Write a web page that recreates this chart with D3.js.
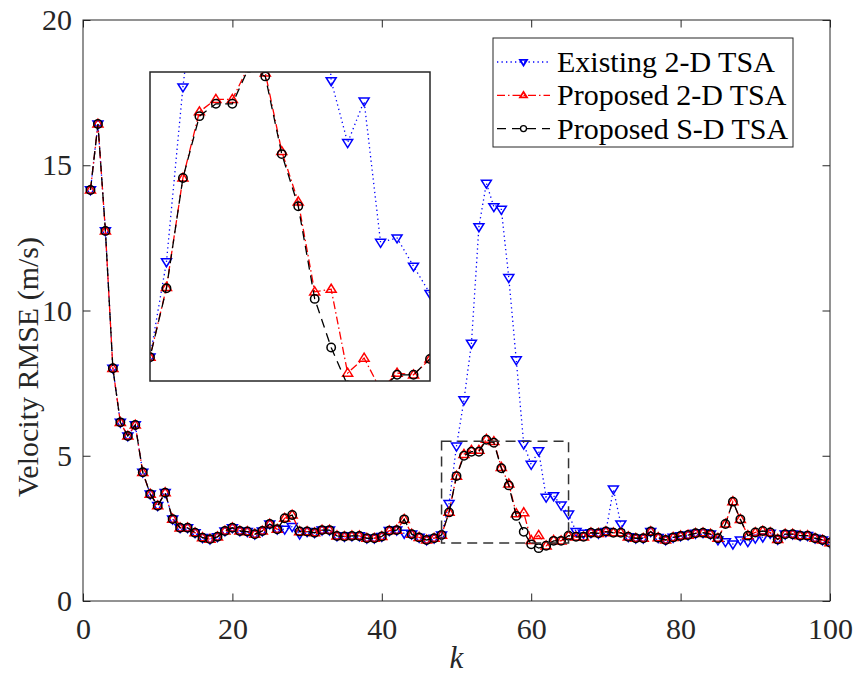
<!DOCTYPE html>
<html>
<head>
<meta charset="utf-8">
<script src="https://cdn.jsdelivr.net/npm/d3@7"></script>
<style>
  body { margin: 0; background: #fff; }
  svg { display: block; font-family: "Liberation Serif", "Times New Roman", "DejaVu Serif", serif; }
</style>
</head>
<body>
<svg id="chart" width="859" height="679"></svg>
<script>
// Time step index
const steps = d3.range(1, 101);

// Velocity RMSE (m/s) per time step
const existing2D = [
  14.15, 16.42, 12.74, 8.01, 6.15, 5.68, 6.06, 4.43, 3.68, 3.28,
  3.73, 2.82, 2.52, 2.52, 2.35, 2.18, 2.13, 2.21, 2.41, 2.52,
  2.41, 2.39, 2.30, 2.41, 2.65, 2.47, 2.47, 2.56, 2.30, 2.39,
  2.35, 2.44, 2.44, 2.24, 2.22, 2.24, 2.24, 2.16, 2.16, 2.22,
  2.42, 2.44, 2.33, 2.30, 2.19, 2.10, 2.16, 2.27, 3.35, 5.33,
  6.92, 8.87, 12.88, 14.38, 13.57, 13.48, 11.13, 8.30, 5.40, 4.70,
  5.17, 3.57, 3.62, 3.30, 2.99, 2.39, 2.33, 2.35, 2.33, 2.39,
  3.85, 2.65, 2.21, 2.16, 2.16, 2.39, 2.18, 2.10, 2.19, 2.24,
  2.27, 2.33, 2.35, 2.30, 2.10, 2.04, 1.96, 2.10, 2.04, 2.16,
  2.20, 2.33, 2.12, 2.30, 2.30, 2.25, 2.25, 2.16, 2.10, 2.01
];
const proposed2D = [
  14.15, 16.42, 12.74, 8.01, 6.15, 5.68, 6.06, 4.43, 3.68, 3.28,
  3.73, 2.82, 2.52, 2.52, 2.35, 2.18, 2.13, 2.21, 2.41, 2.52,
  2.41, 2.39, 2.30, 2.41, 2.65, 2.47, 2.85, 2.96, 2.39, 2.39,
  2.35, 2.44, 2.44, 2.24, 2.22, 2.24, 2.24, 2.16, 2.16, 2.22,
  2.42, 2.44, 2.81, 2.30, 2.19, 2.10, 2.16, 2.27, 3.06, 4.30,
  5.05, 5.19, 5.19, 5.57, 5.49, 4.60, 4.03, 3.01, 3.04, 2.09,
  2.26, 1.90, 2.09, 2.07, 2.25, 2.21, 2.21, 2.35, 2.33, 2.39,
  2.35, 2.35, 2.21, 2.16, 2.16, 2.39, 2.18, 2.10, 2.19, 2.24,
  2.27, 2.33, 2.35, 2.30, 2.16, 2.65, 3.42, 2.81, 2.25, 2.36,
  2.41, 2.36, 2.12, 2.30, 2.30, 2.25, 2.25, 2.16, 2.10, 2.01
];
const proposedSD = [
  14.15, 16.42, 12.74, 8.01, 6.15, 5.68, 6.06, 4.43, 3.68, 3.28,
  3.73, 2.82, 2.52, 2.52, 2.35, 2.18, 2.13, 2.21, 2.41, 2.52,
  2.41, 2.39, 2.30, 2.41, 2.65, 2.47, 2.85, 2.96, 2.39, 2.39,
  2.35, 2.44, 2.44, 2.24, 2.22, 2.24, 2.24, 2.16, 2.16, 2.22,
  2.42, 2.44, 2.81, 2.30, 2.19, 2.10, 2.16, 2.27, 3.05, 4.30,
  5.00, 5.14, 5.14, 5.55, 5.45, 4.57, 3.98, 2.93, 2.38, 1.95,
  1.82, 1.90, 2.07, 2.07, 2.25, 2.21, 2.21, 2.35, 2.33, 2.39,
  2.35, 2.35, 2.21, 2.16, 2.16, 2.39, 2.18, 2.10, 2.19, 2.24,
  2.27, 2.33, 2.35, 2.30, 2.16, 2.65, 3.42, 2.81, 2.25, 2.36,
  2.41, 2.36, 2.12, 2.30, 2.30, 2.25, 2.25, 2.16, 2.10, 2.01
];

const seriesNames = ["Existing 2-D TSA", "Proposed 2-D TSA", "Proposed S-D TSA"];
const xTicks = [0, 20, 40, 60, 80, 100];
const yTicks = [0, 5, 10, 15, 20];
// Zoomed window: k range and RMSE range
const zoomK = [48, 65];
const zoomV = [2, 5.5];

const svg = d3.select("#chart");
const FRAME = "#262626";
const FONT = "'Liberation Serif', 'Times New Roman', serif";

const plot = { left: 83, right: 830, top: 20, bottom: 601 };
const x = d3.scaleLinear().domain([0, 100]).range([plot.left, plot.right]);
const y = d3.scaleLinear().domain([0, 20]).range([plot.bottom, plot.top]);

const styles = [
  { color: "#0000ff", dash: "1.3,3.2", marker: "down" },
  { color: "#ff0000", dash: "8,3,1.5,3", marker: "up" },
  { color: "#000000", dash: "9,6", marker: "circle" }
];
const seriesData = [existing2D, proposed2D, proposedSD];

function markerPath(type, s) {
  if (type === "down") {
    return `M${-s},${-s * 0.62}L${s},${-s * 0.62}L0,${s * 0.98}Z`;
  } else if (type === "up") {
    return `M${-s},${s * 0.62}L${s},${s * 0.62}L0,${-s * 0.98}Z`;
  }
  return null;
}

function drawSeries(g, xs, ys, sizeTri, rCirc) {
  seriesData.forEach((vals, i) => {
    const st = styles[i];
    const pts = steps.map((k, j) => [k, vals[j]]);
    const line = d3.line().x(d => xs(d[0])).y(d => ys(d[1]));
    g.append("path")
      .attr("d", line(pts))
      .attr("fill", "none")
      .attr("stroke", st.color)
      .attr("stroke-width", 1.3)
      .attr("stroke-dasharray", st.dash);
    const mg = g.append("g");
    if (st.marker === "circle") {
      mg.selectAll("circle").data(pts).join("circle")
        .attr("cx", d => xs(d[0])).attr("cy", d => ys(d[1]))
        .attr("r", rCirc)
        .attr("fill", "none").attr("stroke", st.color).attr("stroke-width", 1.5);
    } else {
      mg.selectAll("path").data(pts).join("path")
        .attr("transform", d => `translate(${xs(d[0])},${ys(d[1])})`)
        .attr("d", markerPath(st.marker, sizeTri))
        .attr("fill", "none").attr("stroke", st.color).attr("stroke-width", 1.5);
    }
  });
}

// Main axes
svg.append("defs").append("clipPath").attr("id", "mainClip")
  .append("rect").attr("x", plot.left).attr("y", plot.top)
  .attr("width", plot.right - plot.left).attr("height", plot.bottom - plot.top);

const mainG = svg.append("g").attr("clip-path", "url(#mainClip)");
drawSeries(mainG, x, y, 5, 4.2);

// Dashed rectangle marking the zoomed window
svg.append("rect")
  .attr("x", x(zoomK[0])).attr("y", y(zoomV[1]))
  .attr("width", x(zoomK[1]) - x(zoomK[0]))
  .attr("height", y(zoomV[0]) - y(zoomV[1]))
  .attr("fill", "none").attr("stroke", "#333").attr("stroke-width", 1.5)
  .attr("stroke-dasharray", "10,6");

// Frame with inward ticks on all four sides
const tickLen = 7.5;
const axBottom = d3.axisBottom(x).tickValues(xTicks).tickSize(-tickLen).tickPadding(17);
const axTop = d3.axisTop(x).tickValues(xTicks).tickSize(-tickLen).tickFormat("");
const axLeft = d3.axisLeft(y).tickValues(yTicks).tickSize(-tickLen).tickPadding(11);
const axRight = d3.axisRight(y).tickValues(yTicks).tickSize(-tickLen).tickFormat("");

function styleAxis(g) {
  g.select(".domain").remove();
  g.selectAll(".tick line").attr("stroke", FRAME).attr("stroke-width", 1);
  g.selectAll(".tick text").attr("fill", "#262626")
    .style("font-family", FONT).style("font-size", "30px");
}
svg.append("g").attr("transform", `translate(0,${plot.bottom})`).call(axBottom).call(styleAxis);
svg.append("g").attr("transform", `translate(0,${plot.top})`).call(axTop).call(styleAxis);
svg.append("g").attr("transform", `translate(${plot.left},0)`).call(axLeft).call(styleAxis);
svg.append("g").attr("transform", `translate(${plot.right},0)`).call(axRight).call(styleAxis);
svg.append("rect")
  .attr("x", plot.left).attr("y", plot.top)
  .attr("width", plot.right - plot.left).attr("height", plot.bottom - plot.top)
  .attr("fill", "none").attr("stroke", FRAME).attr("stroke-width", 1);

// Axis labels
svg.append("text")
  .attr("x", (plot.left + plot.right) / 2).attr("y", 668)
  .attr("text-anchor", "middle")
  .style("font-family", FONT).style("font-size", "31px").style("font-style", "italic")
  .attr("fill", "#262626")
  .text("k");
svg.append("text")
  .attr("transform", "translate(38,497) rotate(-90)")
  .attr("text-anchor", "start")
  .style("font-family", FONT).style("font-size", "30px").attr("fill", "#262626")
  .text("Velocity RMSE (m/s)");

// Inset with the zoomed window
const inset = { left: 150, right: 430, top: 72, bottom: 381 };
const xi = d3.scaleLinear().domain(zoomK).range([inset.left, inset.right]);
const yi = d3.scaleLinear().domain(zoomV).range([inset.bottom, inset.top]);
svg.append("rect")
  .attr("x", inset.left).attr("y", inset.top)
  .attr("width", inset.right - inset.left).attr("height", inset.bottom - inset.top)
  .attr("fill", "#fff");
svg.select("defs").append("clipPath").attr("id", "insetClip")
  .append("rect").attr("x", inset.left).attr("y", inset.top)
  .attr("width", inset.right - inset.left).attr("height", inset.bottom - inset.top);
const insetG = svg.append("g").attr("clip-path", "url(#insetClip)");
drawSeries(insetG, xi, yi, 5, 4.2);
svg.append("rect")
  .attr("x", inset.left).attr("y", inset.top)
  .attr("width", inset.right - inset.left).attr("height", inset.bottom - inset.top)
  .attr("fill", "none").attr("stroke", FRAME).attr("stroke-width", 1.5);

// Legend
const lg = { left: 493, top: 38, width: 300, height: 109 };
svg.append("rect")
  .attr("x", lg.left).attr("y", lg.top).attr("width", lg.width).attr("height", lg.height)
  .attr("fill", "#fff").attr("stroke", FRAME).attr("stroke-width", 1);
seriesNames.forEach((name, i) => {
  const st = styles[i];
  const cy = 62 + i * 33.3;
  const row = svg.append("g");
  row.append("line")
    .attr("x1", 497).attr("x2", 550).attr("y1", cy).attr("y2", cy)
    .attr("stroke", st.color).attr("stroke-width", 1.3).attr("stroke-dasharray", st.dash);
  if (st.marker === "circle") {
    row.append("circle").attr("cx", 523.5).attr("cy", cy).attr("r", 3)
      .attr("fill", "none").attr("stroke", st.color).attr("stroke-width", 1.3);
  } else {
    row.append("path").attr("transform", `translate(523.5,${cy})`)
      .attr("d", markerPath(st.marker, 3.5))
      .attr("fill", "none").attr("stroke", st.color).attr("stroke-width", 1.8);
  }
  row.append("text")
    .attr("x", 557).attr("y", cy + 10)
    .style("font-family", FONT).style("font-size", "30px").attr("fill", "#000")
    .text(name);
});
</script>
</body>
</html>
